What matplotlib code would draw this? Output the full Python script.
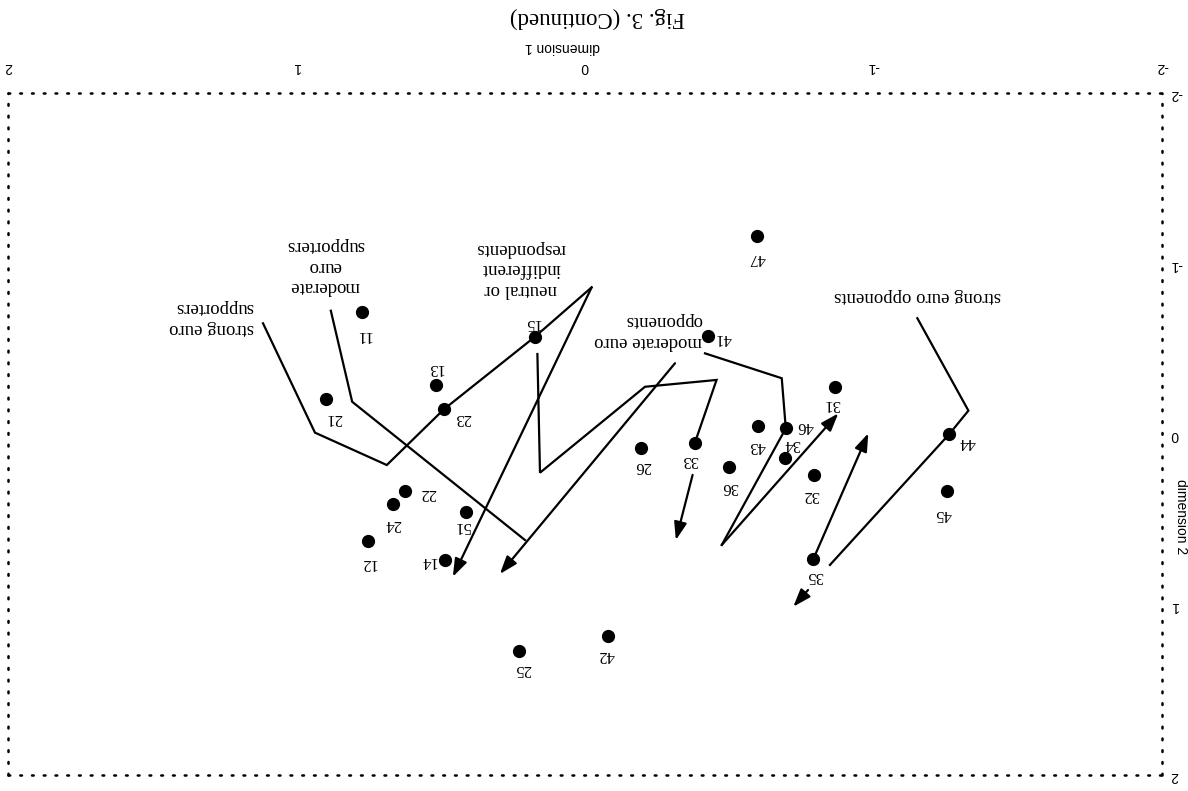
import matplotlib.pyplot as plt

plt.rcParams['font.family'] = ['Liberation Serif', 'DejaVu Serif']
plt.rcParams['axes.unicode_minus'] = False

# respondent groups: position on the two dimensions
point_ids = ['11', '12', '13', '14', '15', '21', '22', '23', '24', '25', '26',
             '31', '32', '33', '34', '35', '36', '41', '42', '43', '44', '45',
             '46', '47', '51']
dim1 = [0.774, 0.751, 0.516, 0.485, 0.173, 0.899, 0.624, 0.489, 0.664, 0.229, -0.194,
        -0.867, -0.794, -0.381, -0.693, -0.791, -0.500, -0.427, -0.081, -0.600, -1.263, -1.256,
        -0.696, -0.596, 0.412]
dim2 = [-0.717, 0.628, -0.287, 0.739, -0.571, -0.205, 0.334, -0.145, 0.412, 1.273, 0.085,
        -0.274, 0.240, 0.051, 0.141, 0.735, 0.196, -0.575, 1.185, -0.044, 0.000, 0.333,
        -0.033, -1.162, 0.459]

# trajectories (dim1, dim2)
strong_sup_x = [1.116, 0.936, 0.687, 0.489, 0.173, -0.023, 0.458]
strong_sup_y = [-0.649, -0.008, 0.182, -0.145, -0.571, -0.860, 0.837]
mod_sup_x = [0.881, 0.807, 0.208]
mod_sup_y = [-0.723, -0.189, 0.622]
mod_opp_x = [-0.312, 0.295]
mod_opp_y = [-0.415, 0.821]
neutral_x = [0.165, 0.156, -0.208, -0.456, -0.381]
neutral_y = [-0.469, 0.227, -0.277, -0.317, 0.051]
neutral_arr_x = [-0.373, -0.315]
neutral_arr_y = [0.240, 0.622]
opp41_x = [-0.416, -0.682, -0.696, -0.474, -0.878]
opp41_y = [-0.473, -0.327, -0.033, 0.651, -0.121]
strong_opp_x = [-1.152, -1.329, -1.263, -0.849]
strong_opp_y = [-0.679, -0.137, 0.000, 0.768]
strong_opp_arr_x = [-0.773, -0.722]
strong_opp_arr_y = [0.915, 1.013]
p35_arr_x = [-0.791, -0.982]
p35_arr_y = [0.735, -0.004]

group_labels = ['strong euro\nsupporters', 'moderate\neuro\nsupporters',
                'neutral or\nindifferent\nrespondents', 'moderate euro\nopponents',
                'strong euro opponents']

fig = plt.figure(figsize=(11.88, 7.91), dpi=100)
ax = fig.add_axes([0.00673, 0.02023, 0.97138, 0.8622])
ax.set_xlim(2, -2)
ax.set_ylim(2, -2)

for s in ax.spines.values():
    s.set_linestyle((0, (0.7, 4.0)))
    s.set_linewidth(1.8)
    s.set_capstyle('round')

ax.xaxis.tick_top()
ax.yaxis.tick_right()
ax.set_xticks([-2, -1, 0, 1, 2])
ax.set_yticks([-2, -1, 0, 1, 2])
ax.tick_params(length=0)
ax.tick_params(axis='x', pad=14)
ax.tick_params(axis='y', pad=6)
for lab in ax.get_xticklabels() + ax.get_yticklabels():
    lab.set_rotation(180)
    lab.set_fontsize(10)
    lab.set_family(['Liberation Sans', 'DejaVu Sans'])


def path(xs, ys, arrow=False):
    if arrow:
        if len(xs) > 2:
            ax.plot(xs[:-1], ys[:-1], color='black', lw=1.6, solid_joinstyle='miter')
        ax.annotate('', xy=(xs[-1], ys[-1]), xytext=(xs[-2], ys[-2]),
                    arrowprops=dict(arrowstyle='-|>,head_length=0.9,head_width=0.32',
                                    color='black', lw=1.6, mutation_scale=12,
                                    shrinkA=0, shrinkB=0))
    else:
        ax.plot(xs, ys, color='black', lw=1.6, solid_joinstyle='miter')


path(strong_sup_x, strong_sup_y, arrow=True)
path(mod_sup_x, mod_sup_y)
path(mod_opp_x, mod_opp_y, arrow=True)
path(neutral_x, neutral_y)
path(neutral_arr_x, neutral_arr_y, arrow=True)
path(opp41_x, opp41_y, arrow=True)
path(strong_opp_x, strong_opp_y)
path(strong_opp_arr_x, strong_opp_arr_y, arrow=True)
path(p35_arr_x, p35_arr_y, arrow=True)

ax.plot(dim1, dim2, 'o', color='black', ms=8.5, zorder=3)

# label nudges in pixels (right, down) from the dot
nudge = {'11': (2, 23), '12': (0, 22), '13': (-1, -17), '14': (-17, 1), '15': (-3, -14),
         '21': (8, 19), '22': (23, 2), '23': (19, 9), '24': (0, 20), '25': (4, 18),
         '26': (2, 18), '31': (-3, 17), '32': (-3, 20), '33': (-5, 17), '34': (7, -14),
         '35': (2, 17), '36': (1, 20), '41': (15, 2), '42': (-2, 19), '43': (-1, 20),
         '44': (18, 8), '45': (-4, 23), '46': (19, -2), '47': (0, 22), '51': (-5, 14)}
for pid, x, y in zip(point_ids, dim1, dim2):
    dx, dy = nudge[pid]
    ax.annotate(pid, (x, y), xytext=(dx, -dy), textcoords='offset pixels',
                ha='center', va='center', rotation=180, fontsize=12)

label_pos = [(1.296, -0.680), (0.901, -0.985), (0.222, -0.968), (-0.218, -0.604),
             (-1.154, -0.809)]
label_align = ['left', 'center', 'center', 'left', 'left']
for txt, (x, y), al in zip(group_labels, label_pos, label_align):
    ax.text(x, y, txt, ha='center', va='center', rotation=180, fontsize=13.5,
            multialignment=al, linespacing=1.25)

fig.text(597 / 1188, 1 - 18 / 791, 'Fig. 3. (Continued)', ha='center', va='center',
         rotation=180, fontsize=16.5)
fig.text(563 / 1188, 1 - 47 / 791, 'dimension 1', ha='center', va='center',
         rotation=180, fontsize=10, family=['Liberation Sans', 'DejaVu Sans'])
fig.text(1181 / 1188, 1 - 517 / 791, 'dimension 2', ha='center', va='center',
         rotation=270, fontsize=10, family=['Liberation Sans', 'DejaVu Sans'])

fig.savefig('out.png', dpi=100)
